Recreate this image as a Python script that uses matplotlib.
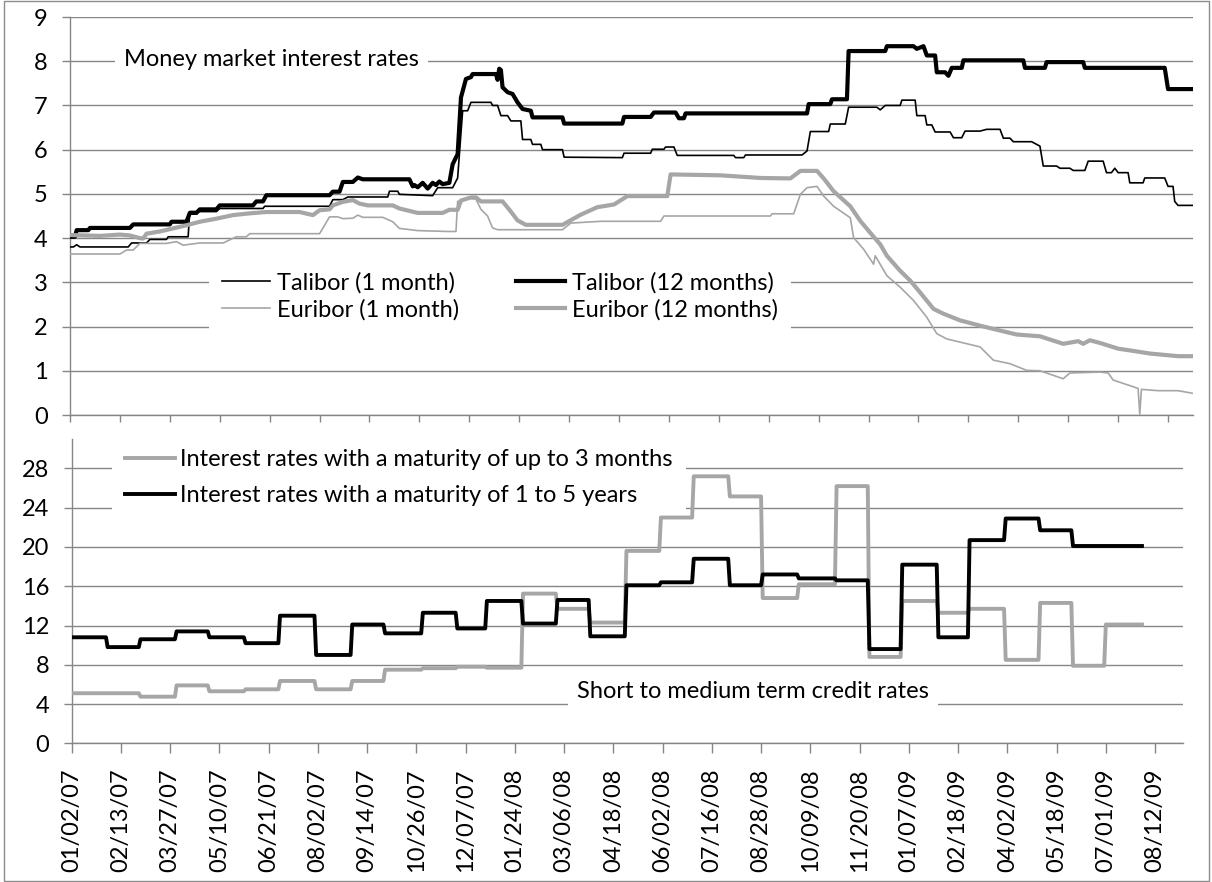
"""Money market rates and short to medium term credit rates, 2007-2009."""
from __future__ import annotations

import matplotlib

matplotlib.use("Agg")
import matplotlib.pyplot as plt  # noqa: E402
import numpy as np  # noqa: E402
from matplotlib.patches import Rectangle  # noqa: E402

plt.rcParams["font.family"] = ["Lato", "DejaVu Sans"]

FIG_W_PX, FIG_H_PX, DPI = 1212, 882, 100
BLACK = "#000000"
GREY = "#a6a6a6"
GRID = "#868686"
FONT_SIZE = 17

# category axis: one point per trading day, a label every 30 days
TICK_STEP = 30
TICK_LABELS = [
    "01/02/07", "02/13/07", "03/27/07", "05/10/07", "06/21/07", "08/02/07",
    "09/14/07", "10/26/07", "12/07/07", "01/24/08", "03/06/08", "04/18/08",
    "06/02/08", "07/16/08", "08/28/08", "10/09/08", "11/20/08", "01/07/09",
    "02/18/09", "04/02/09", "05/18/09", "07/01/09", "08/12/09",
]
LAST_DAY_TOP = 675
LAST_DAY_BOTTOM = 677

# money market rates: (trading-day index, rate %) where the series changes
TAL1_DAY = [0, 2, 4, 6, 35, 37, 46, 48, 58, 59, 71, 72, 88, 90, 116, 117, 156,
            158, 164, 167, 191, 192, 197, 198, 218, 221, 230, 233, 236, 239,
            241, 253, 254, 257, 259, 263, 265, 271, 272, 277, 278, 283, 284,
            296, 297, 332, 333, 349, 350, 357, 358, 363, 365, 399, 400, 405,
            406, 440, 443, 445, 456, 457, 466, 468, 485, 487, 490, 499, 500,
            508, 509, 514, 515, 518, 520, 529, 531, 536, 538, 547, 551, 559,
            561, 565, 567, 578, 583, 585, 593, 595, 601, 603, 610, 612, 621,
            623, 626, 628, 630, 636, 637, 645, 646, 658, 660, 663, 664, 666,
            675]
TAL1_RATE = [3.80, 3.80, 3.85, 3.80, 3.80, 3.89, 3.89, 3.97, 3.97, 4.03, 4.03,
             4.60, 4.60, 4.67, 4.67, 4.72, 4.72, 4.87, 4.87, 4.93, 4.93, 5.06,
             5.06, 4.99, 4.96, 5.14, 5.14, 5.36, 6.88, 6.88, 7.07, 7.07, 7.00,
             7.00, 6.77, 6.77, 6.65, 6.65, 6.23, 6.23, 6.12, 6.12, 6.00, 6.00,
             5.83, 5.82, 5.92, 5.92, 6.01, 6.01, 6.06, 6.06, 5.87, 5.87, 5.82,
             5.82, 5.88, 5.88, 5.97, 6.41, 6.41, 6.58, 6.58, 6.96, 6.96, 6.90,
             7.00, 7.00, 7.12, 7.12, 6.77, 6.77, 6.56, 6.56, 6.40, 6.40, 6.27,
             6.27, 6.42, 6.42, 6.46, 6.46, 6.26, 6.26, 6.18, 6.18, 6.08, 5.63,
             5.63, 5.58, 5.58, 5.53, 5.53, 5.74, 5.74, 5.48, 5.48, 5.58, 5.48,
             5.48, 5.25, 5.25, 5.36, 5.36, 5.17, 5.17, 4.83, 4.74, 4.74]

TAL12_DAY = [0, 3, 4, 11, 12, 36, 38, 60, 61, 70, 72, 76, 78, 88, 90, 110,
             112, 116, 118, 156, 158, 162, 164, 170, 173, 176, 204, 206, 207,
             209, 212, 215, 218, 220, 222, 224, 228, 230, 233, 235, 238, 241,
             242, 256, 257, 258, 259, 260, 263, 266, 269, 272, 277, 278, 296,
             297, 332, 333, 349, 351, 364, 366, 369, 370, 443, 444, 457, 458,
             467, 468, 490, 491, 507, 509, 513, 515, 520, 521, 526, 528, 530,
             536, 537, 573, 574, 586, 587, 609, 610, 658, 660, 675]
TAL12_RATE = [4.03, 4.03, 4.18, 4.18, 4.23, 4.23, 4.31, 4.31, 4.37, 4.37,
              4.57, 4.57, 4.65, 4.65, 4.74, 4.74, 4.83, 4.83, 4.97, 4.97,
              5.05, 5.05, 5.27, 5.27, 5.37, 5.33, 5.33, 5.17, 5.20, 5.15,
              5.25, 5.12, 5.25, 5.20, 5.28, 5.22, 5.25, 5.67, 5.90, 7.18,
              7.60, 7.64, 7.71, 7.71, 7.58, 7.83, 7.80, 7.41, 7.30, 7.26,
              7.07, 6.92, 6.88, 6.73, 6.73, 6.59, 6.59, 6.74, 6.74, 6.84,
              6.84, 6.71, 6.71, 6.82, 6.82, 7.03, 7.03, 7.14, 7.14, 8.23,
              8.23, 8.34, 8.34, 8.28, 8.34, 8.13, 8.13, 7.75, 7.75, 7.67,
              7.85, 7.85, 8.02, 8.02, 7.85, 7.85, 7.98, 7.98, 7.85, 7.85,
              7.37, 7.37]

EUR1_DAY = [0, 30, 34, 38, 42, 58, 64, 68, 78, 92, 100, 106, 108, 150, 156,
            161, 164, 170, 173, 176, 188, 194, 198, 209, 227, 232, 233, 241,
            244, 247, 251, 254, 257, 296, 301, 319, 355, 357, 421, 422, 435,
            439, 443, 449, 453, 459, 469, 471, 477, 483, 484, 491, 499, 507,
            515, 521, 527, 547, 555, 565, 575, 583, 597, 601, 619, 624, 627,
            639, 642, 643, 644, 654, 666, 675]
EUR1_RATE = [3.64, 3.64, 3.73, 3.73, 3.88, 3.88, 3.92, 3.84, 3.89, 3.89, 4.03,
             4.03, 4.10, 4.10, 4.48, 4.48, 4.44, 4.45, 4.52, 4.47, 4.47, 4.37,
             4.22, 4.17, 4.15, 4.15, 4.83, 4.90, 4.88, 4.65, 4.50, 4.23, 4.19,
             4.19, 4.34, 4.38, 4.38, 4.50, 4.50, 4.55, 4.55, 4.99, 5.14, 5.17,
             4.95, 4.72, 4.46, 4.01, 3.75, 3.41, 3.60, 3.15, 2.89, 2.59, 2.21,
             1.84, 1.72, 1.54, 1.24, 1.16, 1.01, 1.00, 0.82, 0.95, 0.97, 0.95,
             0.79, 0.64, 0.60, 0.02, 0.58, 0.55, 0.55, 0.49]

EUR12_DAY = [0, 18, 30, 36, 42, 44, 46, 54, 70, 78, 88, 98, 108, 118, 138,
             146, 150, 156, 158, 164, 170, 174, 179, 194, 198, 209, 224, 228,
             233, 235, 241, 244, 247, 260, 265, 269, 274, 296, 307, 317, 327,
             335, 359, 361, 391, 415, 433, 439, 449, 453, 459, 469, 475, 481,
             487, 491, 499, 505, 511, 519, 525, 535, 547, 559, 569, 583, 597,
             606, 609, 613, 619, 630, 639, 649, 666, 675]
EUR12_RATE = [4.07, 4.05, 4.08, 4.06, 4.00, 3.99, 4.10, 4.15, 4.29, 4.37, 4.44,
              4.52, 4.56, 4.59, 4.59, 4.52, 4.63, 4.65, 4.74, 4.82, 4.86, 4.78,
              4.74, 4.74, 4.67, 4.57, 4.57, 4.64, 4.64, 4.85, 4.92, 4.92, 4.83,
              4.83, 4.60, 4.40, 4.30, 4.30, 4.53, 4.70, 4.76, 4.95, 4.95, 5.44,
              5.42, 5.36, 5.35, 5.52, 5.52, 5.35, 5.06, 4.72, 4.39, 4.12, 3.86,
              3.60, 3.26, 3.04, 2.77, 2.40, 2.29, 2.14, 2.02, 1.91, 1.82, 1.78,
              1.61, 1.67, 1.61, 1.69, 1.63, 1.50, 1.45, 1.39, 1.33, 1.33]

# credit rates are monthly: trading days per month, Jan 2007 .. Jul 2009
MONTH_DAYS = [22, 20, 22, 20, 22, 21, 22, 22, 20, 23, 21, 18,
              22, 21, 20, 22, 21, 20, 22, 20, 22, 23, 20, 20,
              22, 19, 22, 21, 20, 20, 23]
SHORT_RATE = [5.1, 5.1, 4.75, 5.9, 5.3, 5.5, 6.35, 5.5, 6.35, 7.5, 7.65, 7.8,
              7.7, 15.25, 13.7, 12.3, 19.6, 23.0, 27.2, 25.15, 14.8, 16.2,
              26.2, 8.8, 14.5, 13.3, 13.7, 8.5, 14.3, 7.9, 12.1]
LONG_RATE = [10.8, 9.8, 10.6, 11.4, 10.8, 10.2, 13.0, 9.0, 12.1, 11.2, 13.3,
             11.7, 14.5, 12.2, 14.6, 10.9, 16.1, 16.4, 18.8, 16.1, 17.2, 16.8,
             16.6, 9.6, 18.2, 10.8, 20.7, 22.9, 21.7, 20.1, 20.1]


def px_box(left: float, top: float, right: float, bottom: float) -> list:
    """Figure-fraction rectangle from pixel edges (origin top-left)."""
    return [left / FIG_W_PX, 1 - bottom / FIG_H_PX,
            (right - left) / FIG_W_PX, (bottom - top) / FIG_H_PX]


def px_point(x: float, y: float) -> tuple:
    return x / FIG_W_PX, 1 - y / FIG_H_PX


def style_axes(ax, yticks, tick_len_x: float, show_labels: bool) -> None:
    ax.set_axisbelow(True)
    ax.grid(axis="y", color=GRID, linewidth=1.0)
    ax.grid(axis="x", visible=False)
    for side in ("top", "right"):
        ax.spines[side].set_visible(False)
    for side in ("left", "bottom"):
        ax.spines[side].set_color(GRID)
        ax.spines[side].set_linewidth(1.0)
    ax.set_yticks(yticks)
    ax.tick_params(axis="y", length=6, width=1.0, color=GRID, pad=10,
                   labelsize=FONT_SIZE)
    positions = np.arange(len(TICK_LABELS)) * TICK_STEP
    ax.set_xticks(positions)
    if show_labels:
        ax.set_xticklabels(TICK_LABELS, rotation=90, fontsize=FONT_SIZE)
    else:
        ax.set_xticklabels([])
    ax.tick_params(axis="x", length=tick_len_x, width=1.0, color=GRID, pad=11)


def plot_money_market(fig) -> None:
    ax = fig.add_axes(px_box(70, 17, 1193, 415))
    l1, = ax.plot(TAL1_DAY, TAL1_RATE, color=BLACK, lw=1.2, zorder=3,
                  label="Talibor (1 month)")
    l2, = ax.plot(EUR1_DAY, EUR1_RATE, color=GREY, lw=1.2, zorder=3,
                  label="Euribor (1 month)")
    l3, = ax.plot(TAL12_DAY, TAL12_RATE, color=BLACK, lw=3.0, zorder=3,
                  label="Talibor (12 months)")
    l4, = ax.plot(EUR12_DAY, EUR12_RATE, color=GREY, lw=3.0, zorder=3,
                  label="Euribor (12 months)")
    ax.set_xlim(0, LAST_DAY_TOP)
    ax.set_ylim(0, 9)
    style_axes(ax, range(0, 10), 5, show_labels=False)

    leg = ax.legend(
        handles=[l1, l2, l3, l4], ncol=2, loc="upper left",
        bbox_to_anchor=px_point(209, 259), bbox_transform=fig.transFigure,
        fontsize=FONT_SIZE, frameon=True, fancybox=False, facecolor="white",
        edgecolor="none", framealpha=1, borderpad=0.55, borderaxespad=0,
        handlelength=2.05, handletextpad=0.3, labelspacing=0.22,
        columnspacing=2.4,
    )
    leg.set_zorder(2.5)
    x, y = px_point(124, 60)
    fig.text(x, y, "Money market interest rates", fontsize=FONT_SIZE,
             ha="left", va="center",
             bbox=dict(boxstyle="square,pad=0.4", fc="white", ec="none"))


def plot_credit_rates(fig) -> None:
    ax = fig.add_axes(px_box(71.5, 439, 1183, 743.3))
    short = np.repeat(SHORT_RATE, MONTH_DAYS)
    long_ = np.repeat(LONG_RATE, MONTH_DAYS)
    days = np.arange(len(short))
    s, = ax.plot(days, short, color=GREY, lw=2.8, zorder=3,
                 label="Interest rates with a maturity of up to 3 months")
    l, = ax.plot(days, long_, color=BLACK, lw=2.8, zorder=3,
                 label="Interest rates with a maturity of 1 to 5 years")
    ax.set_xlim(0, LAST_DAY_BOTTOM)
    ax.set_ylim(0, 31)
    style_axes(ax, range(0, 29, 4), 7, show_labels=True)

    # legend box sits under the lines so the June 2008 step stays visible
    leg = ax.legend(
        handles=[s, l], loc="upper left",
        bbox_to_anchor=px_point(112, 436), bbox_transform=fig.transFigure,
        fontsize=FONT_SIZE, frameon=True, fancybox=False, facecolor="white",
        edgecolor="none", framealpha=1, borderpad=0.55, borderaxespad=0,
        handlelength=2.1, handletextpad=0.25, labelspacing=0.65,
    )
    leg.set_zorder(2.5)
    x, y = px_point(577, 692)
    fig.text(x, y, "Short to medium term credit rates", fontsize=FONT_SIZE,
             ha="left", va="center",
             bbox=dict(boxstyle="square,pad=0.4", fc="white", ec="none"))


def main() -> None:
    fig = plt.figure(figsize=(FIG_W_PX / DPI, FIG_H_PX / DPI), dpi=DPI)
    fig.patches.append(Rectangle(px_point(4, 881), 1205 / FIG_W_PX,
                                 880 / FIG_H_PX, transform=fig.transFigure,
                                 fill=False, ec="#8c8c8c", lw=1.0))
    plot_money_market(fig)
    plot_credit_rates(fig)
    fig.savefig("out.png", dpi=DPI)
    plt.close(fig)


if __name__ == "__main__":
    main()
